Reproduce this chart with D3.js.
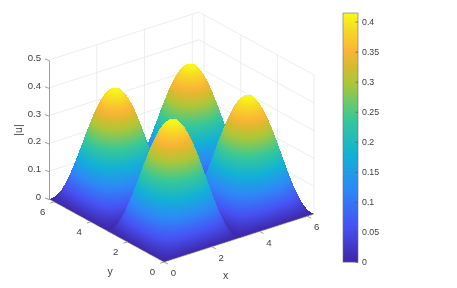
<!DOCTYPE html>
<html>
<head>
  <style type="text/css">
    body { margin: 0; background: #fff; }
    svg { display: block; filter: blur(0.35px); }
    text { font-family: "Liberation Sans", Arial, sans-serif; fill: #404040; }
    .grid line { stroke: #e9e9e9; stroke-width: 0.8px; }
    .edge { stroke: #858585; stroke-width: 0.8px; }
    .surface path { shape-rendering: crispEdges; }
  </style>
</head>
<body>
<svg></svg>
<script src="https://d3js.org/d3.v7.min.js"></script>
<script>
    var width = 457;
    var height = 288;

    /* grid positions on both floor axes */
    var gridPos = [0, 0.175, 0.349, 0.524, 0.698, 0.873, 1.047, 1.222, 1.396, 1.571, 1.745, 1.92,
      2.094, 2.269, 2.443, 2.618, 2.793, 2.967, 3.142, 3.316, 3.491, 3.665, 3.84, 4.014, 4.189,
      4.363, 4.538, 4.712, 4.887, 5.061, 5.236, 5.411, 5.585, 5.76, 5.934, 6.109, 6.283];

    /* |u| read along one y row, the picture has four equal bumps so rows repeat */
    var row0 = [0,0,0,0,0,0,0,0,0,0,0,0,0,0,0,0,0,0,0,0,0,0,0,0,0,0,0,0,0,0,0,0,0,0,0,0,0];
    var row1 = [0,.012,.025,.036,.046,.055,.062,.068,.071,.072,.071,.068,.062,.055,.046,.036,.025,.012,0,.012,.025,.036,.046,.055,.062,.068,.071,.072,.071,.068,.062,.055,.046,.036,.025,.012,0];
    var row2 = [0,.025,.048,.071,.091,.109,.123,.133,.14,.142,.14,.133,.123,.109,.091,.071,.048,.025,0,.025,.048,.071,.091,.109,.123,.133,.14,.142,.14,.133,.123,.109,.091,.071,.048,.025,0];
    var row3 = [0,.036,.071,.104,.133,.159,.179,.195,.204,.207,.204,.195,.179,.159,.133,.104,.071,.036,0,.036,.071,.104,.133,.159,.179,.195,.204,.207,.204,.195,.179,.159,.133,.104,.071,.036,0];
    var row4 = [0,.046,.091,.133,.171,.204,.231,.25,.262,.266,.262,.25,.231,.204,.171,.133,.091,.046,0,.046,.091,.133,.171,.204,.231,.25,.262,.266,.262,.25,.231,.204,.171,.133,.091,.046,0];
    var row5 = [0,.055,.109,.159,.204,.243,.275,.298,.313,.317,.313,.298,.275,.243,.204,.159,.109,.055,0,.055,.109,.159,.204,.243,.275,.298,.313,.317,.313,.298,.275,.243,.204,.159,.109,.055,0];
    var row6 = [0,.062,.123,.179,.231,.275,.311,.337,.353,.359,.353,.337,.311,.275,.231,.179,.123,.062,0,.062,.123,.179,.231,.275,.311,.337,.353,.359,.353,.337,.311,.275,.231,.179,.123,.062,0];
    var row7 = [0,.068,.133,.195,.25,.298,.337,.366,.383,.389,.383,.366,.337,.298,.25,.195,.133,.068,0,.068,.133,.195,.25,.298,.337,.366,.383,.389,.383,.366,.337,.298,.25,.195,.133,.068,0];
    var row8 = [0,.071,.14,.204,.262,.313,.353,.383,.402,.408,.402,.383,.353,.313,.262,.204,.14,.071,0,.071,.14,.204,.262,.313,.353,.383,.402,.408,.402,.383,.353,.313,.262,.204,.14,.071,0];
    var row9 = [0,.072,.142,.207,.266,.317,.359,.389,.408,.414,.408,.389,.359,.317,.266,.207,.142,.072,0,.072,.142,.207,.266,.317,.359,.389,.408,.414,.408,.389,.359,.317,.266,.207,.142,.072,0];
    var uRows = [row0,row1,row2,row3,row4,row5,row6,row7,row8,row9,row8,row7,row6,row5,row4,row3,row2,row1,
      row0,row1,row2,row3,row4,row5,row6,row7,row8,row9,row8,row7,row6,row5,row4,row3,row2,row1,row0];

    var xTicks = [0, 2, 4, 6];
    var yTicks = [0, 2, 4, 6];
    var zTicks = [0, 0.1, 0.2, 0.3, 0.4, 0.5];
    var barTicks = [0, 0.05, 0.1, 0.15, 0.2, 0.25, 0.3, 0.35, 0.4];
    var uMax = 0.4143;
    var floorMax = 6.2832;

    /* parula colour stops, as seen on the colorbar */
    var parulaAt = [0, 0.059, 0.118, 0.178, 0.237, 0.296, 0.327, 0.35, 0.385, 0.4143];
    var parula = ['#3e26a8', '#4752f4', '#2e87f7', '#12b1d6', '#37c897', '#abc739', '#d9ba30', '#fbb535', '#f6d828', '#f9fb15'];

    var svg = d3.select('svg')
      .attr('width', width)
      .attr('height', height);
    var defs = svg.append('defs');

    /* oblique view: each data axis adds its own screen offset */
    var xToPx = d3.scaleLinear().domain([0, floorMax]).range([0, 150]);
    var xToPy = d3.scaleLinear().domain([0, floorMax]).range([0, -48]);
    var yToPx = d3.scaleLinear().domain([0, floorMax]).range([0, -115]);
    var yToPy = d3.scaleLinear().domain([0, floorMax]).range([0, -63]);
    var zToPy = d3.scaleLinear().domain([0, 0.5]).range([0, -139]);
    var originX = 164;
    var originY = 262;

    function project(x, y, z) {
      return [originX + xToPx(x) + yToPx(y), originY + xToPy(x) + yToPy(y) + zToPy(z)];
    }

    var color = d3.scaleLinear()
      .domain(parulaAt)
      .range(parula)
      .interpolate(d3.interpolateRgb)
      .clamp(true);

    /* walls */
    var grid = svg.append('g').attr('class', 'grid');
    var gridLines = [];
    xTicks.slice(1).forEach(function(t) {
      gridLines.push([project(t, floorMax, 0), project(t, floorMax, 0.5)]);
    });
    yTicks.forEach(function(t) {
      gridLines.push([project(floorMax, t, 0), project(floorMax, t, 0.5)]);
    });
    zTicks.forEach(function(t) {
      gridLines.push([project(0, floorMax, t), project(floorMax, floorMax, t)]);
      gridLines.push([project(floorMax, floorMax, t), project(floorMax, 0, t)]);
    });
    grid.selectAll('line')
      .data(gridLines)
      .enter()
      .append('line')
      .attr('x1', function(d) { return d[0][0]; })
      .attr('y1', function(d) { return d[0][1]; })
      .attr('x2', function(d) { return d[1][0]; })
      .attr('y2', function(d) { return d[1][1]; });

    /* surface, far cells first, two triangles per sub cell */
    var split = 2;
    var cells = [];
    for (var i = gridPos.length - 2; i >= 0; i--) {
      for (var j = gridPos.length - 2; j >= 0; j--) {
        for (var a = split - 1; a >= 0; a--) {
          for (var b = split - 1; b >= 0; b--) {
            cells.push([i, j, a, b, 0]);
            cells.push([i, j, a, b, 1]);
          }
        }
      }
    }

    function corner(i, j, a, b) {
      var fx = a / split, fy = b / split;
      var x = gridPos[i] + (gridPos[i + 1] - gridPos[i]) * fx;
      var y = gridPos[j] + (gridPos[j + 1] - gridPos[j]) * fy;
      var z = uRows[j][i] * (1 - fx) * (1 - fy) + uRows[j][i + 1] * fx * (1 - fy) +
        uRows[j + 1][i] * (1 - fx) * fy + uRows[j + 1][i + 1] * fx * fy;
      return {p: project(x, y, z), z: z};
    }

    /* colour runs straight across a flat triangle, so one gradient per triangle gives interp shading */
    function triangleFill(t, id) {
      var zLow = d3.min(t, function(e) { return e.z; });
      var zHigh = d3.max(t, function(e) { return e.z; });
      var ax = t[1].p[0] - t[0].p[0], ay = t[1].p[1] - t[0].p[1];
      var bx = t[2].p[0] - t[0].p[0], by = t[2].p[1] - t[0].p[1];
      var det = ax * by - ay * bx;
      if (Math.abs(det) < 0.01 || zHigh - zLow < 0.0005) return color((zLow + zHigh) / 2);
      var dz1 = t[1].z - t[0].z, dz2 = t[2].z - t[0].z;
      var gx = (dz1 * by - dz2 * ay) / det;
      var gy = (dz2 * ax - dz1 * bx) / det;
      var g2 = gx * gx + gy * gy;
      var grad = defs.append('linearGradient')
        .attr('id', id)
        .attr('gradientUnits', 'userSpaceOnUse')
        .attr('x1', t[0].p[0] + (zLow - t[0].z) * gx / g2)
        .attr('y1', t[0].p[1] + (zLow - t[0].z) * gy / g2)
        .attr('x2', t[0].p[0] + (zHigh - t[0].z) * gx / g2)
        .attr('y2', t[0].p[1] + (zHigh - t[0].z) * gy / g2);
      [0, 0.25, 0.5, 0.75, 1].forEach(function(o) {
        grad.append('stop').attr('offset', o).attr('stop-color', color(zLow + (zHigh - zLow) * o));
      });
      return 'url(#' + id + ')';
    }

    svg.append('g')
      .attr('class', 'surface')
      .selectAll('path')
      .data(cells)
      .enter()
      .append('path')
      .each(function(d, k) {
        var c00 = corner(d[0], d[1], d[2], d[3]), c10 = corner(d[0], d[1], d[2] + 1, d[3]);
        var c11 = corner(d[0], d[1], d[2] + 1, d[3] + 1), c01 = corner(d[0], d[1], d[2], d[3] + 1);
        var t = d[4] === 0 ? [c10, c11, c01] : [c00, c10, c01];
        d3.select(this)
          .attr('d', 'M' + t.map(function(e) { return e.p.join(','); }).join('L') + 'Z')
          .attr('fill', triangleFill(t, 'tri' + k));
      });

    /* z axis */
    var zAxisScale = d3.scaleLinear().domain([0, 0.5]).range([originY - 63, originY - 63 - 139]);
    var zAxis = svg.append('g')
      .attr('transform', 'translate(49,0)')
      .call(d3.axisLeft(zAxisScale).tickValues(zTicks).tickFormat(d3.format('~g')).tickSize(4).tickSizeOuter(0));
    zAxis.select('.domain').attr('class', 'edge').attr('stroke', null);
    zAxis.selectAll('line').attr('class', 'edge').attr('stroke', null).attr('y2', -1.5);
    zAxis.selectAll('text').attr('x', -8).attr('y', -2.5).style('font-size', '9.6px');
    zAxis.attr('font-family', null).attr('font-size', null);

    /* x and y axes along the floor edges */
    function floorAxis(ticks, at, tickDx, tickDy, labelDx, labelDy, from, to) {
      var g = svg.append('g');
      g.append('line').attr('class', 'edge')
        .attr('x1', from[0]).attr('y1', from[1]).attr('x2', to[0]).attr('y2', to[1]);
      ticks.forEach(function(t) {
        var p = at(t);
        g.append('line').attr('class', 'edge')
          .attr('x1', p[0]).attr('y1', p[1]).attr('x2', p[0] + tickDx).attr('y2', p[1] + tickDy);
        g.append('text')
          .attr('x', p[0] + labelDx).attr('y', p[1] + labelDy)
          .attr('text-anchor', 'middle').attr('dy', '0.36em')
          .style('font-size', '9.6px')
          .text(t);
      });
    }
    floorAxis(xTicks, function(t) { return project(t, 0, 0); }, 4, 2, 9.5, 10.8, project(0, 0, 0), project(floorMax, 0, 0));
    floorAxis(yTicks, function(t) { return project(0, t, 0); }, -3.8, 1.2, -11.6, 9.4, project(0, 0, 0), project(0, floorMax, 0));

    svg.append('text').attr('x', 225.5).attr('y', 275).attr('dy', '0.36em')
      .attr('text-anchor', 'middle').style('font-size', '10.5px').text('x');
    svg.append('text').attr('x', 110).attr('y', 271.5).attr('dy', '0.36em')
      .attr('text-anchor', 'middle').style('font-size', '10.5px').text('y');
    svg.append('text').attr('transform', 'translate(18,130) rotate(-90)').attr('dy', '0.36em')
      .attr('text-anchor', 'middle').style('font-size', '10.5px').text('|u|');

    /* colorbar */
    var barScale = d3.scaleLinear().domain([0, uMax]).range([262, 13]);
    svg.append('g')
      .selectAll('rect')
      .data(d3.range(0, uMax, uMax / 249))
      .enter()
      .append('rect')
      .attr('x', 343)
      .attr('width', 15)
      .attr('y', function(d) { return barScale(d) - 1; })
      .attr('height', 1.2)
      .attr('fill', function(d) { return color(d); });
    svg.append('rect')
      .attr('x', 343).attr('y', 13).attr('width', 15).attr('height', 249)
      .attr('fill', 'none').attr('stroke', '#6e6e6e').attr('stroke-width', 0.6);
    var barAxis = svg.append('g')
      .attr('transform', 'translate(358,0)')
      .call(d3.axisRight(barScale).tickValues(barTicks).tickFormat(d3.format('~g')).tickSize(-2.5).tickSizeOuter(0).tickPadding(4));
    barAxis.select('.domain').remove();
    barAxis.selectAll('line').attr('stroke', '#555').attr('stroke-width', 0.7);
    barAxis.selectAll('text').style('font-size', '8.8px');
    barAxis.attr('font-family', null).attr('font-size', null);
  </script>
</body>
</html>
